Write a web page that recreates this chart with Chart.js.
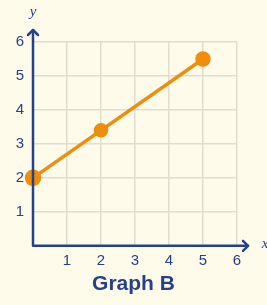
<!DOCTYPE html>
<html>
<head>
<meta charset="utf-8">
<script src="https://cdn.jsdelivr.net/npm/chart.js@4"></script>
<style>
  html, body { margin: 0; padding: 0; background: #fefbea; }
  #wrap { width: 267px; height: 305px; }
</style>
</head>
<body>
<div id="wrap"><canvas id="graph"></canvas></div>
<script>
const xValues = [0, 2, 5];
const yValues = [2, 3.4, 5.5];
const tickValues = [1, 2, 3, 4, 5, 6];
const chartTitle = 'Graph B';

const navy = '#26418c';
const orange = '#ef8d0c';

// axes with arrows, the x / y letters, and the arrow tip on the line end
const axisArrows = {
  id: 'axisArrows',
  beforeDraw(chart) {
    const c = chart.ctx;
    c.save();
    c.fillStyle = '#fefbea';
    c.fillRect(0, 0, chart.width, chart.height);
    c.restore();
  },
  afterDatasetsDraw(chart) {
    const c = chart.ctx;
    const xs = chart.scales.x, ys = chart.scales.y;
    const x0 = xs.getPixelForValue(0), y0 = ys.getPixelForValue(0);
    const topY = ys.getPixelForValue(6) - 12;
    const rightX = xs.getPixelForValue(6) + 11;
    c.save();
    c.strokeStyle = navy;
    c.lineWidth = 2.5;
    c.lineCap = 'round';
    c.lineJoin = 'round';
    c.beginPath();
    c.moveTo(x0, y0);
    c.lineTo(x0, topY);
    c.moveTo(x0, y0);
    c.lineTo(rightX, y0);
    c.stroke();
    c.beginPath();
    c.moveTo(x0 - 5, topY + 5);
    c.lineTo(x0, topY);
    c.lineTo(x0 + 5, topY + 5);
    c.moveTo(rightX - 5, y0 - 5);
    c.lineTo(rightX, y0);
    c.lineTo(rightX - 5, y0 + 5);
    c.stroke();

    // small arrow head under the last point
    const n = xValues.length - 1;
    const ex = xs.getPixelForValue(xValues[n]), ey = ys.getPixelForValue(yValues[n]);
    const px = xs.getPixelForValue(xValues[n - 1]), py = ys.getPixelForValue(yValues[n - 1]);
    const len = Math.hypot(ex - px, ey - py);
    const ux = (ex - px) / len, uy = (ey - py) / len;
    c.fillStyle = orange;
    c.beginPath();
    c.moveTo(ex + ux * 3, ey + uy * 3);
    c.lineTo(ex - ux * 4 - uy * 7.5, ey - uy * 4 + ux * 7.5);
    c.lineTo(ex - ux * 4 + uy * 7.5, ey - uy * 4 - ux * 7.5);
    c.closePath();
    c.fill();

    c.fillStyle = navy;
    c.font = 'italic 15px "Liberation Serif"';
    c.textAlign = 'center';
    c.textBaseline = 'middle';
    c.fillText('y', x0, 12);
    c.fillText('x', rightX + 17, y0 - 2);
    c.restore();
  }
};

new Chart(document.getElementById('graph'), {
  type: 'scatter',
  data: {
    datasets: [
      {
        data: xValues.map((x, i) => ({ x: x, y: yValues[i] })),
        showLine: true,
        borderColor: orange,
        backgroundColor: orange,
        borderWidth: 3.5,
        pointRadius: [6.5, 5.5, 6],
        pointHoverRadius: [6.5, 5.5, 6],
        clip: false,
      },
    ],
  },
  options: {
    responsive: true,
    maintainAspectRatio: false,
    animation: false,
    events: [],
    layout: { padding: { left: 0, top: 42, right: 0, bottom: 0 } },
    plugins: {
      legend: { display: false },
      tooltip: { enabled: false },
      title: {
        display: true,
        position: 'bottom',
        text: chartTitle,
        color: navy,
        font: { family: 'Liberation Sans', size: 21, weight: 'bold' },
        padding: { top: 3, bottom: 8 },
      },
    },
    scales: {
      x: {
        type: 'linear',
        min: 0,
        max: 6,
        afterFit: s => { s.height = 23; },
        afterBuildTicks: s => { s.ticks = tickValues.map(v => ({ value: v })); },
        border: { display: false },
        grid: { color: '#e2ddd0', lineWidth: 1.5, drawTicks: false },
        ticks: {
          padding: 6,
          color: navy,
          font: { family: 'Liberation Sans', size: 15 },
        },
      },
      y: {
        type: 'linear',
        min: 0,
        max: 6,
        afterFit: s => { s.width = 33; },
        afterBuildTicks: s => { s.ticks = tickValues.map(v => ({ value: v })); },
        border: { display: false },
        grid: { color: '#e2ddd0', lineWidth: 1.5, drawTicks: false },
        ticks: {
          padding: 9,
          color: navy,
          font: { family: 'Liberation Sans', size: 15 },
        },
      },
      // empty right axis, only keeps room for the x arrow and letter
      spacer: {
        type: 'linear',
        position: 'right',
        display: true,
        afterFit: s => { s.width = 30; },
        grid: { display: false },
        border: { display: false },
        ticks: { display: false },
      },
    },
  },
  plugins: [axisArrows],
});
</script>
</body>
</html>
